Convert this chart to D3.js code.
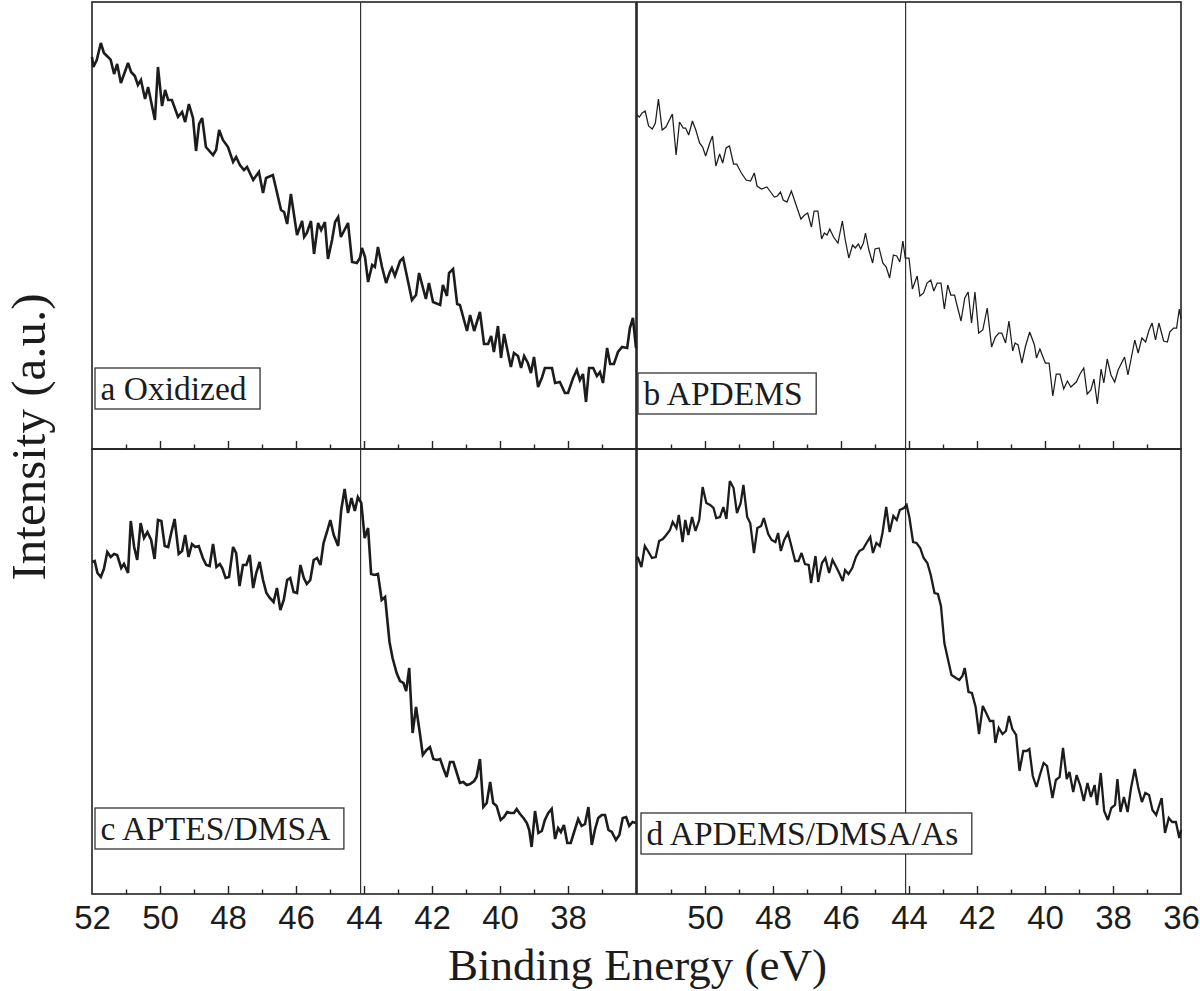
<!DOCTYPE html>
<html><head><meta charset="utf-8">
<script src="https://cdn.jsdelivr.net/npm/d3@7"></script>
<style>html,body{margin:0;padding:0;background:#fff;} svg{display:block;}</style>
</head><body>
<svg id="chart" width="1200" height="991"></svg>
<script>
// ---------- data (binding energy in eV, intensity in arbitrary units) ----------
const energyA = [52.00,51.96,51.86,51.74,51.65,51.53,51.45,51.35,51.26,51.15,50.94,50.85,50.74,50.65,50.56,50.44,50.35,50.15,50.06,49.94,49.85,49.76,49.65,49.47,49.35,49.26,49.15,49.03,48.94,48.85,48.76,48.65,48.44,48.35,48.26,48.15,48.00,47.85,47.76,47.65,47.53,47.44,47.26,47.09,46.97,46.88,46.68,46.44,46.35,46.26,46.15,45.97,45.82,45.76,45.68,45.56,45.47,45.35,45.26,45.15,45.06,44.94,44.85,44.76,44.68,44.47,44.35,44.21,44.12,44.06,43.97,43.88,43.76,43.68,43.59,43.47,43.35,43.24,43.18,43.09,42.94,42.85,42.59,42.47,42.38,42.18,42.09,41.97,41.76,41.68,41.56,41.50,41.38,41.26,41.18,40.97,40.88,40.76,40.59,40.47,40.35,40.26,40.18,40.06,39.97,39.88,39.68,39.59,39.47,39.38,39.29,39.18,39.09,39.00,38.88,38.76,38.68,38.47,38.38,38.24,38.09,38.00,37.85,37.74,37.65,37.56,37.47,37.38,37.26,37.15,37.06,36.97,36.85,36.76,36.65,36.53,36.41,36.26,36.18,36.09,36.00];
const intensityA = [392,382,389,406,396,392,389,375,385,366,386,377,373,364,369,350,362,329,382,343,359,349,349,332,337,327,345,331,298,325,331,302,294,299,319,309,302,287,292,284,279,282,269,277,256,271,274,239,237,225,255,214,228,212,216,228,195,226,219,227,190,209,227,232,212,226,187,186,191,201,192,167,184,182,202,182,166,177,181,173,188,191,149,154,176,150,166,147,144,164,153,176,180,145,144,118,134,118,137,105,105,113,97,123,91,115,82,96,93,81,93,86,76,92,62,72,81,81,66,67,56,56,71,79,69,75,47,81,81,73,77,66,101,85,85,97,102,101,121,131,101];

const energyB = [52.00,51.93,51.85,51.76,51.66,51.55,51.46,51.37,51.26,51.15,50.96,50.85,50.75,50.64,50.57,50.48,50.37,50.27,50.16,50.07,49.98,49.86,49.78,49.68,49.57,49.48,49.38,49.28,49.16,49.07,48.93,48.79,48.66,48.55,48.47,48.34,48.18,48.07,47.96,47.87,47.78,47.70,47.59,47.46,47.32,47.18,47.07,46.98,46.87,46.79,46.68,46.57,46.49,46.41,46.33,46.22,46.09,45.96,45.88,45.77,45.66,45.58,45.49,45.42,45.34,45.28,45.18,45.07,45.00,44.88,44.77,44.67,44.57,44.46,44.36,44.27,44.18,44.11,44.00,43.90,43.76,43.68,43.57,43.47,43.36,43.27,43.17,43.06,42.96,42.86,42.77,42.66,42.59,42.47,42.36,42.26,42.16,42.06,41.95,41.83,41.70,41.57,41.46,41.36,41.27,41.16,41.06,40.95,40.88,40.79,40.68,40.58,40.45,40.31,40.25,40.15,39.99,39.88,39.77,39.67,39.56,39.45,39.34,39.24,39.08,38.97,38.86,38.76,38.65,38.56,38.46,38.35,38.27,38.17,38.06,37.95,37.85,37.66,37.56,37.36,37.26,37.15,37.04,36.94,36.85,36.75,36.65,36.51,36.40,36.33,36.22,36.13,36.05,36.00];
const intensityB = [334,332,336,338,323,320,326,350,319,322,335,294,327,321,321,314,328,319,306,302,293,306,313,283,295,286,301,303,285,285,276,269,268,276,263,260,262,257,252,253,257,249,247,258,244,230,234,236,222,238,238,210,216,214,220,212,206,228,210,191,204,201,205,200,206,216,199,186,200,201,186,182,171,194,193,187,208,191,191,160,173,153,156,166,169,158,166,166,140,164,154,154,144,128,151,157,126,157,116,119,141,102,112,116,116,106,128,98,106,104,86,102,117,104,91,100,86,86,53,75,75,60,68,62,67,75,81,55,59,70,45,80,66,90,74,67,79,92,74,109,96,111,107,119,126,109,126,108,107,117,121,121,140,130];

const energyC = [52.00,51.92,51.84,51.74,51.65,51.55,51.45,51.35,51.26,51.14,51.06,50.94,50.86,50.76,50.67,50.57,50.47,50.37,50.26,50.16,50.06,49.96,49.86,49.76,49.67,49.57,49.45,49.35,49.26,49.16,49.06,48.96,48.86,48.74,48.64,48.54,48.44,48.34,48.24,48.17,48.07,47.97,47.85,47.76,47.66,47.56,47.46,47.36,47.26,47.17,47.07,46.97,46.87,46.77,46.66,46.56,46.46,46.36,46.26,46.17,46.07,45.97,45.87,45.77,45.68,45.58,45.48,45.38,45.28,45.19,45.09,44.99,44.89,44.76,44.67,44.57,44.47,44.37,44.27,44.18,44.08,43.98,43.88,43.79,43.69,43.59,43.48,43.38,43.25,43.16,43.04,42.94,42.84,42.76,42.67,42.57,42.47,42.37,42.27,42.16,42.06,41.96,41.86,41.76,41.67,41.57,41.47,41.37,41.27,41.18,41.08,40.98,40.88,40.76,40.69,40.59,40.49,40.39,40.29,40.20,40.10,39.98,39.88,39.79,39.69,39.59,39.51,39.41,39.31,39.21,39.14,39.07,38.97,38.87,38.77,38.68,38.58,38.48,38.38,38.29,38.21,38.12,38.02,37.92,37.82,37.70,37.60,37.50,37.40,37.30,37.21,37.11,37.01,36.91,36.81,36.71,36.59,36.49,36.39,36.29,36.20,36.10,36.00];
const intensityC = [332,333,321,317,325,342,337,340,339,326,330,321,373,347,334,371,356,362,354,335,374,373,348,347,361,375,340,343,359,337,350,347,348,336,329,328,350,327,330,326,316,317,347,341,308,329,329,339,306,321,332,314,301,296,292,306,284,294,314,316,302,301,329,316,310,314,334,336,329,351,362,374,359,348,384,405,381,396,383,397,391,356,366,320,319,320,294,297,252,236,221,213,211,203,226,161,187,164,139,144,147,135,134,135,126,117,132,132,121,111,112,109,110,113,117,135,87,91,112,91,88,74,77,82,81,81,85,80,76,71,64,47,83,61,63,74,81,85,55,66,62,69,51,51,62,75,68,70,87,49,64,76,79,79,64,62,54,59,76,77,68,72,71];

const energyD = [52.00,51.98,51.87,51.77,51.66,51.56,51.45,51.35,51.24,51.14,51.03,50.95,50.84,50.77,50.66,50.58,50.49,50.38,50.28,50.17,50.07,49.96,49.85,49.75,49.67,49.56,49.46,49.37,49.27,49.16,49.06,48.95,48.87,48.76,48.67,48.56,48.46,48.35,48.27,48.14,48.04,47.93,47.85,47.77,47.67,47.56,47.46,47.35,47.25,47.16,47.06,46.95,46.88,46.75,46.67,46.56,46.46,46.35,46.25,46.14,46.04,45.95,45.88,45.78,45.67,45.56,45.46,45.35,45.25,45.14,45.06,44.96,44.86,44.78,44.67,44.57,44.46,44.36,44.27,44.15,44.07,43.99,43.88,43.78,43.67,43.57,43.46,43.36,43.25,43.15,43.06,42.96,42.85,42.75,42.62,42.52,42.43,42.36,42.25,42.15,42.04,41.94,41.83,41.73,41.62,41.52,41.46,41.36,41.25,41.15,41.06,40.96,40.85,40.75,40.64,40.54,40.46,40.36,40.25,40.15,40.04,39.94,39.78,39.68,39.57,39.47,39.36,39.28,39.17,39.07,38.96,38.86,38.75,38.65,38.54,38.47,38.36,38.26,38.15,38.05,37.94,37.87,37.78,37.68,37.57,37.47,37.36,37.26,37.15,37.05,36.94,36.84,36.73,36.57,36.47,36.36,36.26,36.15,36.05,36.00];
const intensityD = [334,337,327,348,342,336,337,353,355,359,364,372,366,379,352,374,359,377,363,374,407,391,389,386,376,377,387,375,413,406,381,391,409,377,371,341,366,368,376,360,354,352,361,343,354,361,348,333,333,341,330,329,311,338,312,331,336,321,334,327,320,313,324,320,326,337,343,345,351,357,341,351,348,361,387,362,378,374,384,386,389,377,352,351,346,336,331,319,301,300,288,251,234,219,216,214,218,226,202,201,187,160,188,181,173,173,151,166,160,163,178,165,159,123,143,143,145,118,107,119,131,128,96,114,117,146,115,122,102,119,108,93,111,97,109,89,121,83,74,86,89,115,82,97,82,106,125,107,92,101,99,84,79,96,61,76,72,72,56,64];

const panelNames = ["a Oxidized", "b APDEMS", "c APTES/DMSA", "d APDEMS/DMSA/As"];
const energyDomain = [52, 36];
const intensityMaxTop = 447;
const intensityMaxBottom = 445;
const majorTicks = [50, 48, 46, 44, 42, 40, 38];
const minorTicks = [51, 49, 47, 45, 43, 41, 39, 37];
const leftTickLabels = [52, 50, 48, 46, 44, 42, 40, 38];
const rightTickLabels = [50, 48, 46, 44, 42, 40, 38, 36];
const markerEnergy = 44.1;
const xTitle = "Binding Energy (eV)";
const yTitle = "Intensity (a.u.)";

// ---------- layout ----------
const svg = d3.select("#chart");
const cols = [[92, 636], [637, 1181]];
const rows = [[2, 449], [449, 894]];
const serif = "'Liberation Serif', 'Times New Roman', Times, serif";
const sans = "'Liberation Sans', Arial, Helvetica, sans-serif";
const ink = "#1c1c1c";

const panels = [
  {name: panelNames[0], e: energyA, v: intensityA, col: 0, row: 0, lw: 2.6, box: [95, 368], labels: null},
  {name: panelNames[1], e: energyB, v: intensityB, col: 1, row: 0, lw: 1.25, box: [638, 373], labels: null},
  {name: panelNames[2], e: energyC, v: intensityC, col: 0, row: 1, lw: 2.6, box: [95, 808], labels: leftTickLabels},
  {name: panelNames[3], e: energyD, v: intensityD, col: 1, row: 1, lw: 2.3, box: [641, 813], labels: rightTickLabels}
];

panels.forEach(p => {
  const [x0, x1] = cols[p.col];
  const [yt, yb] = rows[p.row];
  const x = d3.scaleLinear().domain(energyDomain).range([x0, x1]);
  const y = d3.scaleLinear().domain([0, p.row === 0 ? intensityMaxTop : intensityMaxBottom]).range([yb, yt]);
  const g = svg.append("g");

  // frame
  g.append("rect").attr("x", x0).attr("y", yt).attr("width", x1 - x0).attr("height", yb - yt)
    .attr("fill", "none").attr("stroke", "#222").attr("stroke-width", 1.6);

  // reference line
  g.append("line").attr("x1", x(markerEnergy)).attr("x2", x(markerEnergy))
    .attr("y1", yt).attr("y2", yb).attr("stroke", "#333").attr("stroke-width", 1.2);

  // inward ticks
  const major = d3.axisBottom(x).tickValues(majorTicks).tickSize(-8).tickFormat("");
  const minor = d3.axisBottom(x).tickValues(minorTicks).tickSize(-4.5).tickFormat("");
  [major, minor].forEach(ax => {
    const a = g.append("g").attr("transform", `translate(0,${yb})`).call(ax);
    a.select(".domain").remove();
    a.selectAll("line").attr("stroke", "#222").attr("stroke-width", 1.4);
  });

  // tick labels
  if (p.labels) {
    const lab = d3.axisBottom(x).tickValues(p.labels).tickSize(0).tickPadding(12).tickFormat(d3.format("d"));
    const a = g.append("g").attr("transform", `translate(0,${yb})`).call(lab);
    a.select(".domain").remove();
    a.selectAll("text").attr("font-family", sans).attr("font-size", 33).attr("fill", ink);
  }

  // spectrum
  const line = d3.line().x(d => x(d[0])).y(d => y(d[1]));
  g.append("path").datum(d3.zip(p.e, p.v)).attr("d", line)
    .attr("fill", "none").attr("stroke", ink).attr("stroke-width", p.lw)
    .attr("stroke-linejoin", "miter").attr("stroke-miterlimit", 3);

  // label box
  const bx = p.box[0], by = p.box[1];
  const rect = g.append("rect").attr("x", bx).attr("y", by).attr("height", 41)
    .attr("fill", "#fff").attr("stroke", "#333").attr("stroke-width", 1.3);
  const t = g.append("text").attr("x", bx + 5.5).attr("y", by + 32)
    .attr("font-family", serif).attr("font-size", 33.5).attr("fill", ink).text(p.name);
  const w = t.node().getComputedTextLength();
  rect.attr("width", w + 19);
});

// axis titles
svg.append("text").attr("x", 637.5).attr("y", 980).attr("text-anchor", "middle")
  .attr("font-family", serif).attr("font-size", 45).attr("fill", ink).text(xTitle);
svg.append("text").attr("transform", "translate(45,437) rotate(-90)").attr("text-anchor", "middle")
  .attr("font-family", serif).attr("font-size", 49).attr("fill", ink).text(yTitle);
</script>
</body></html>
